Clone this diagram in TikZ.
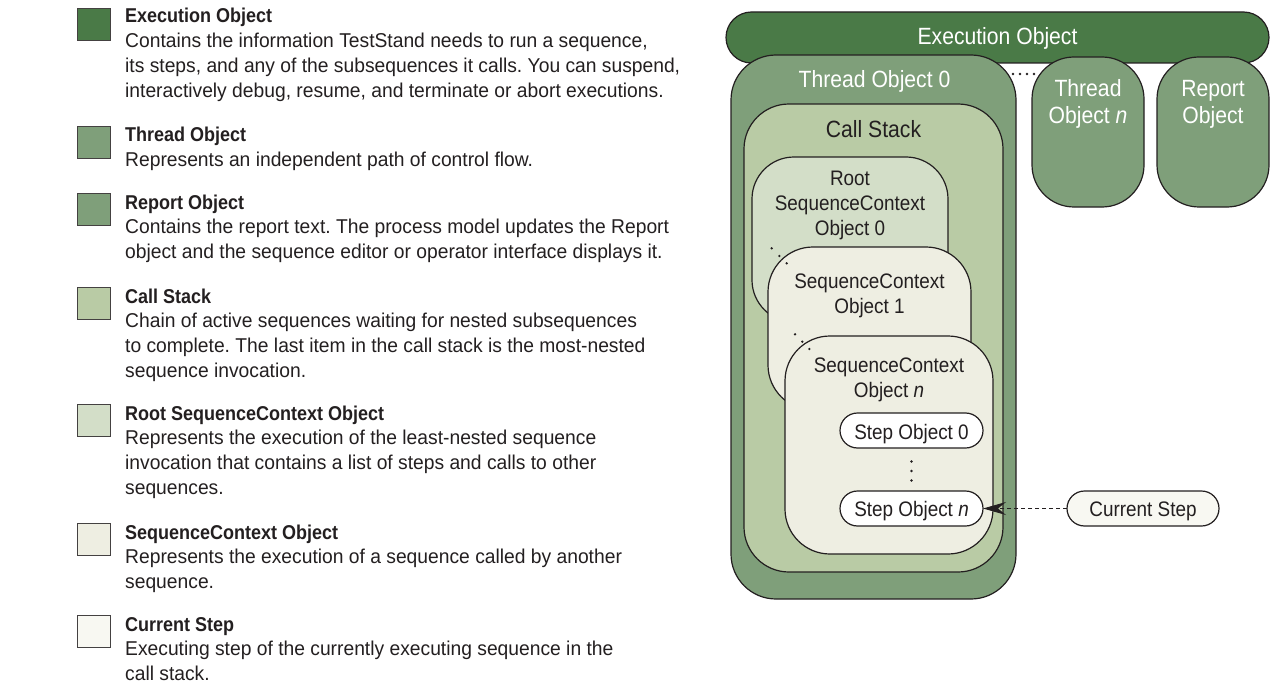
\documentclass[tikz,border=0pt]{standalone}
\usepackage{fontspec}
\setmainfont[FakeStretch=0.9]{Liberation Sans}
\newfontfamily\legbody[FakeStretch=0.963]{Liberation Sans}
\usetikzlibrary{arrows.meta}
\frenchspacing
\definecolor{ink}{HTML}{231F20}
\definecolor{cexec}{HTML}{4A7A47}
\definecolor{cthread}{HTML}{7F9F7A}
\definecolor{ccall}{HTML}{B9CBA5}
\definecolor{croot}{HTML}{D3DEC8}
\definecolor{csc}{HTML}{EEEEE2}
\definecolor{ccur}{HTML}{F8F8F2}
\newcommand\lgfont{\fontsize{20}{24.8}\selectfont}
\newcommand\dgbig{\fontsize{23.5}{27}\selectfont}
\newcommand\dgsmall{\fontsize{21}{25.3}\selectfont}
\newcommand\hd[1]{{\rmfamily\bfseries #1}}
\newcommand\mlc[1]{\begin{tabular}[t]{@{}c@{}}#1\end{tabular}}
\newcommand\mll[1]{\begin{tabular}[t]{@{}l@{}}#1\end{tabular}}
\tikzset{
  obox/.style={draw=ink, line width=1.2pt, inner sep=0pt, outer sep=0pt},
  lbl/.style={anchor=base, inner sep=0pt, text=ink},
  wlbl/.style={anchor=base, inner sep=0pt, text=white, font=\dgbig},
  sq/.style={draw=ink!85, line width=1.5pt, minimum width=33pt, minimum height=32pt, inner sep=0pt},
  legtext/.style={anchor=base west, inner sep=0pt, text=ink, font=\legbody\lgfont},
  dotmark/.style={fill=ink, draw=none, circle, inner sep=0pt, minimum size=2.6pt},
}
\begin{document}
\begin{tikzpicture}[x=1pt,y=-1pt]
\useasboundingbox (0,0) rectangle (1274,690);
% ---------------- legend ----------------
\node[sq, fill=cexec]   (sq1) at (94,24.5)  {};
\node[sq, fill=cthread] (sq2) at (94,142.5) {};
\node[sq, fill=cthread] (sq3) at (94,209.5) {};
\node[sq, fill=ccall]   (sq4) at (94,303.5) {};
\node[sq, fill=croot]   (sq5) at (94,420.5) {};
\node[sq, fill=csc]     (sq6) at (94,539.5) {};
\node[sq, fill=ccur]    (sq7) at (94,631.5) {};
\node[legtext] (t1) at (125,23) {\mll{\hd{Execution Object}\\
Contains the information TestStand needs to run a sequence,\\
its steps, and any of the subsequences it calls. You can suspend,\\
interactively debug, resume, and terminate or abort executions.}};
\node[legtext] (t2) at (125,142) {\mll{\hd{Thread Object}\\
Represents an independent path of control flow.}};
\node[legtext] (t3) at (125,209) {\mll{\hd{Report Object}\\
Contains the report text. The process model updates the Report\\
object and the sequence editor or operator interface displays it.}};
\node[legtext] (t4) at (125,303) {\mll{\hd{Call Stack}\\
Chain of active sequences waiting for nested subsequences\\
to complete. The last item in the call stack is the most-nested\\
sequence invocation.}};
\node[legtext] (t5) at (125,420) {\mll{\hd{Root SequenceContext Object}\\
Represents the execution of the least-nested sequence\\
invocation that contains a list of steps and calls to other\\
sequences.}};
\node[legtext] (t6) at (125,539) {\mll{\hd{SequenceContext Object}\\
Represents the execution of a sequence called by another\\
sequence.}};
\node[legtext] (t7) at (125,631) {\mll{\hd{Current Step}\\
Executing step of the currently executing sequence in the\\
call stack.}};
% ---------------- diagram ----------------
\node[obox, fill=cexec, minimum width=543pt, minimum height=51pt, rounded corners=25.5pt] (exec) at (997.5,37.5) {};
\node[wlbl] (execl) at (997.5,45) {Execution Object};
% dots between thread 0 and thread n
\node[dotmark] (d1) at (1013,74) {};
\node[dotmark] (d2) at (1020,74) {};
\node[dotmark] (d3) at (1027,74) {};
\node[dotmark] (d4) at (1034,74) {};
\node[obox, fill=cthread, minimum width=285pt, minimum height=544pt, rounded corners=45pt] (thread0) at (873.5,327) {};
\node[wlbl] (thread0l) at (874.5,88) {Thread Object 0};
\node[obox, fill=cthread, minimum width=112pt, minimum height=150pt, rounded corners=42pt] (threadn) at (1088,132) {};
\node[wlbl] (threadnl) at (1088,97) {\mlc{Thread\\Object \textit{n}}};
\node[obox, fill=cthread, minimum width=112pt, minimum height=150pt, rounded corners=42pt] (report) at (1213,132) {};
\node[wlbl] (reportl) at (1213,97) {\mlc{Report\\Object}};
\node[obox, fill=ccall, minimum width=259pt, minimum height=468pt, rounded corners=45pt] (callstack) at (873.5,338) {};
\node[lbl, font=\dgbig] (callstackl) at (873.5,138) {Call Stack};
\node[obox, fill=croot, minimum width=196pt, minimum height=165pt, rounded corners=42pt] (root) at (850,239.5) {};
\node[lbl, font=\dgsmall] (rootl) at (850,185) {\mlc{Root\\SequenceContext\\Object 0}};
\node[obox, fill=csc, minimum width=203pt, minimum height=163pt, rounded corners=45pt] (sc1) at (869.5,328.5) {};
\node[lbl, font=\dgsmall] (sc1l) at (869.5,288) {\mlc{SequenceContext\\Object 1}};
\node[dotmark] (e1) at (771.7,248.3) {};
\node[dotmark] (e2) at (779.3,256) {};
\node[dotmark] (e3) at (786.7,263.3) {};
\node[obox, fill=csc, minimum width=208pt, minimum height=218pt, rounded corners=45pt] (scn) at (889,445) {};
\node[lbl, font=\dgsmall] (scnl) at (889,372) {\mlc{SequenceContext\\Object \textit{n}}};
\node[dotmark] (f1) at (795,334.3) {};
\node[dotmark] (f2) at (802.3,341.7) {};
\node[dotmark] (f3) at (809.3,349) {};
\node[obox, fill=white, minimum width=143pt, minimum height=35pt, rounded corners=17.5pt] (step0) at (911.5,430.5) {};
\node[lbl, font=\dgsmall] (step0l) at (911.5,439) {Step Object 0};
\node[dotmark] (g1) at (911.5,461.5) {};
\node[dotmark] (g2) at (911.5,471) {};
\node[dotmark] (g3) at (911.5,480.5) {};
\node[obox, fill=white, minimum width=143pt, minimum height=35pt, rounded corners=17.5pt] (stepn) at (911.5,508.5) {};
\node[lbl, font=\dgsmall] (stepnl) at (911.5,516) {Step Object \textit{n}};
\node[obox, fill=ccur, minimum width=152pt, minimum height=35pt, rounded corners=17.5pt] (cur) at (1143,508.5) {};
\node[lbl, font=\dgsmall] (curl) at (1143,516) {Current Step};
\draw[ink, line width=1pt, dash pattern=on 4pt off 3pt,
  -{Stealth[length=23pt, width=13pt, inset=8pt]}] (cur.west) -- (stepn.east);
\end{tikzpicture}
\end{document}
